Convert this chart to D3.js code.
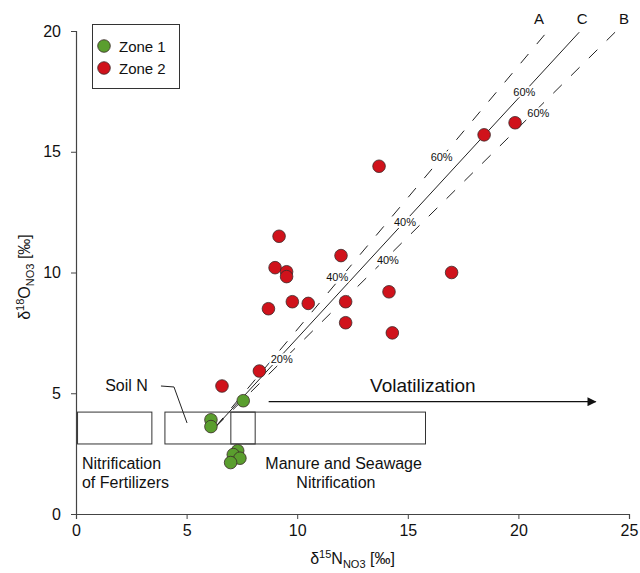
<!DOCTYPE html>
<html><head><meta charset="utf-8">
<script src="https://cdn.jsdelivr.net/npm/d3@7/dist/d3.min.js"></script>
<style>
body{margin:0;background:#fff;}
svg{font-family:"Liberation Sans",Arial,sans-serif;}
</style></head>
<body><svg id="c" width="640" height="573"></svg>
<script>
// ---- data ----
const zone1 = [[6.1,3.9],[6.1,3.62],[7.56,4.69],[7.31,2.62],[7.11,2.46],[7.41,2.31],[6.99,2.13]];
const zone2 = [[6.6,5.3],[8.29,5.92],[8.7,8.5],[9.0,10.2],[9.18,11.5],[9.52,10.03],[9.52,9.83],
  [9.78,8.79],[10.5,8.72],[11.98,10.7],[12.19,8.79],[12.19,7.92],[13.7,14.4],[14.15,9.2],
  [14.3,7.5],[16.98,10.0],[18.45,15.7],[19.85,16.2]];
const xTicks = [0,5,10,15,20,25];
const yTicks = [0,5,10,15,20];
const lineNames = ["A","C","B"];
const lineStart = [6.3,3.6];
const lineEnds = [[21.28,19.95],[22.75,19.95],[24.37,19.95]];
const lineLabelPos = [[20.93,20.5],[22.88,20.5],[24.77,20.5]];
const pctLabels = [["60%",16.53,14.77],["60%",20.27,17.49],["60%",20.9,16.62],
  ["40%",11.81,9.83],["40%",14.87,12.1],["40%",14.1,10.5],["20%",9.3,6.41]];
// boxes: [x0,x1,y0,y1]
const boxes = [[0.07,3.43,2.9,4.22],[4.02,8.1,2.9,4.22],[7.0,15.8,2.9,4.22]];
const arrow = [[8.71,4.65],[23.49,4.65]];
const soilLeader = [[3.84,5.3],[4.43,5.26],[5.02,3.77]];

const svg = d3.select("#c");
const x = d3.scaleLinear().domain([0,25]).range([76,629]);
const y = d3.scaleLinear().domain([0,20]).range([514,31]);
const ink = "#222";

// axes
const gx = svg.append("g").attr("transform","translate(0,514)")
  .call(d3.axisBottom(x).tickValues(xTicks).tickSize(5).tickPadding(6).tickFormat(d3.format("d")));
const gy = svg.append("g").attr("transform","translate(76,0)")
  .call(d3.axisLeft(y).tickValues(yTicks).tickSize(5).tickPadding(10).tickFormat(d3.format("d")));
[gx,gy].forEach(g=>{
  g.select(".domain").attr("stroke","#444").attr("stroke-width",1.2);
  g.selectAll(".tick line").attr("stroke","#444");
  g.selectAll(".tick text").attr("font-size",16).attr("fill","#111")
   .attr("font-family","Liberation Sans, Arial, sans-serif");
});

// boxes
svg.append("g").selectAll("rect").data(boxes).join("rect")
  .attr("x",d=>x(d[0])).attr("width",d=>x(d[1])-x(d[0]))
  .attr("y",d=>y(d[3])).attr("height",d=>y(d[2])-y(d[3]))
  .attr("fill","none").attr("stroke","#333").attr("stroke-width",1);

// mixing lines
const line = d3.line().x(d=>x(d[0])).y(d=>y(d[1]));
svg.append("g").selectAll("path").data(lineEnds).join("path")
  .attr("d",d=>line([lineStart,d]))
  .attr("fill","none").attr("stroke",ink).attr("stroke-width",1)
  .attr("stroke-dasharray",(d,i)=>lineNames[i]==="C"?null:"12,13");
svg.append("g").selectAll("text").data(lineLabelPos).join("text")
  .attr("x",d=>x(d[0])).attr("y",d=>y(d[1])).attr("text-anchor","middle")
  .attr("dominant-baseline","central").attr("font-size",15).attr("fill","#111")
  .text((d,i)=>lineNames[i]);

// percent labels
svg.append("g").selectAll("text").data(pctLabels).join("text")
  .attr("x",d=>x(d[1])).attr("y",d=>y(d[2])).attr("text-anchor","middle")
  .attr("dominant-baseline","central").attr("font-size",11).attr("fill","#111")
  .attr("stroke","#fff").attr("stroke-width",4).attr("paint-order","stroke")
  .text(d=>d[0]);

// arrow
svg.append("defs").append("marker").attr("id","ah").attr("viewBox","0 0 10 10")
  .attr("refX",9).attr("refY",5).attr("markerWidth",11).attr("markerHeight",9)
  .attr("markerUnits","userSpaceOnUse").attr("orient","auto")
  .append("path").attr("d","M0,0L10,5L0,10Z").attr("fill","#111");
svg.append("path").attr("d",line(arrow)).attr("stroke","#111").attr("stroke-width",1.3)
  .attr("marker-end","url(#ah)");
svg.append("text").attr("x",x(15.68)).attr("y",y(5.06)).attr("text-anchor","middle")
  .attr("font-size",19).attr("fill","#111").text("Volatilization");

// soil N leader
svg.append("path").attr("d",line(soilLeader)).attr("fill","none").attr("stroke","#222").attr("stroke-width",1);
svg.append("text").attr("x",x(3.25)).attr("y",y(5.08)).attr("text-anchor","end")
  .attr("font-size",16).attr("fill","#111").text("Soil N");

// box texts
const t1 = svg.append("text").attr("font-size",16).attr("fill","#111");
t1.append("tspan").attr("x",x(0.27)).attr("y",y(1.87)).text("Nitrification");
t1.append("tspan").attr("x",x(0.27)).attr("y",y(1.08)).text("of Fertilizers");
const t2 = svg.append("text").attr("font-size",16).attr("fill","#111").attr("text-anchor","middle");
t2.append("tspan").attr("x",x(12.1)).attr("y",y(1.87)).text("Manure and Seawage");
t2.append("tspan").attr("x",x(11.75)).attr("y",y(1.08)).text("Nitrification");

// points
function pts(data,fill){
  svg.append("g").selectAll("circle").data(data).join("circle")
    .attr("cx",d=>x(d[0])).attr("cy",d=>y(d[1])).attr("r",6.3)
    .attr("fill",fill).attr("stroke","#3a2a2a").attr("stroke-width",0.8);
}
pts(zone2,"#d0121b");
pts(zone1,"#5a9e2e");

// legend
const lg = svg.append("g");
lg.append("rect").attr("x",92.5).attr("y",24.5).attr("width",87).attr("height",64)
  .attr("fill","#fff").attr("stroke","#333");
[["Zone 1","#5a9e2e",46],["Zone 2","#d0121b",68]].forEach(([n,c,yy])=>{
  lg.append("circle").attr("cx",104).attr("cy",yy).attr("r",6.3).attr("fill",c)
    .attr("stroke","#3a2a2a").attr("stroke-width",0.8);
  lg.append("text").attr("x",119).attr("y",yy+5.5).attr("font-size",15).attr("fill","#111").text(n);
});

// axis titles
const xt = svg.append("text").attr("x",(76+629)/2).attr("y",564).attr("text-anchor","middle")
  .attr("font-size",16).attr("fill","#111");
xt.append("tspan").text("δ");
xt.append("tspan").attr("font-size",11).attr("dy",-6).text("15");
xt.append("tspan").attr("dy",6).text("N");
xt.append("tspan").attr("font-size",11).attr("dy",4).text("NO3");
xt.append("tspan").attr("dy",-4).text(" [‰]");
const yt = svg.append("text").attr("transform","translate(30,277) rotate(-90)")
  .attr("text-anchor","middle").attr("font-size",16).attr("fill","#111");
yt.append("tspan").text("δ");
yt.append("tspan").attr("font-size",11).attr("dy",-6).text("18");
yt.append("tspan").attr("dy",6).text("O");
yt.append("tspan").attr("font-size",11).attr("dy",4).text("NO3");
yt.append("tspan").attr("dy",-4).text(" [‰]");
</script></body></html>
